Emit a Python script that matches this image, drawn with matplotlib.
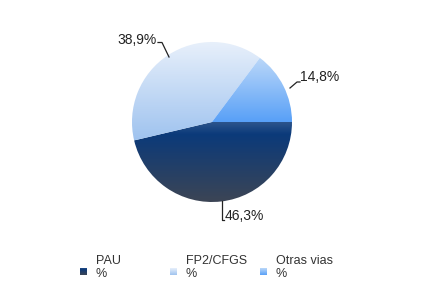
import numpy as np
import matplotlib
matplotlib.use("Agg")
import matplotlib.pyplot as plt

categories = ["PAU", "FP2/CFGS", "Otras vias"]
values = [46.3, 38.9, 14.8]
labels = ["46,3%", "38,9%", "14,8%"]
# gradient stops (position, colour) for every slice, top to bottom
grad_stops = [
    [(0.0, "#2c548b"), (0.15, "#0b3a7a"), (1.0, "#3c4555")],
    [(0.0, "#e8f0fb"), (1.0, "#9fc3ef")],
    [(0.0, "#bcd8f9"), (1.0, "#58a0f7")],
]

W, H = 425, 306
cx, cy, r = 212, 122, 80

plt.rcParams['font.family'] = ['Liberation Sans', 'DejaVu Sans']

fig = plt.figure(figsize=(W / 100, H / 100), dpi=100)
ax = fig.add_axes([0, 0, 1, 1])

# y axis inverted, so counterclock in data = clockwise on screen
wedges, _ = ax.pie(values, startangle=0, counterclock=True, center=(cx, cy),
                   radius=r, wedgeprops=dict(linewidth=0))
ax.set_xlim(0, W)
ax.set_ylim(H, 0)
ax.set_aspect('auto')
ax.axis('off')


def gradient(stops, n=96):
    pos = [s[0] for s in stops]
    cols = np.array([matplotlib.colors.to_rgb(s[1]) for s in stops])
    t = np.linspace(0, 1, n)
    rgb = np.stack([np.interp(t, pos, cols[:, k]) for k in range(3)], axis=1)
    return rgb[:, None, :]


for w, stops in zip(wedges, grad_stops):
    bb = w.get_path().get_extents(w.get_patch_transform())
    w.set_facecolor('none')
    im = ax.imshow(gradient(stops), extent=(bb.x0, bb.x1, bb.y1, bb.y0),
                   aspect='auto', interpolation='bilinear', zorder=1)
    im.set_clip_path(w)

# labels with leader lines
leaders = [[(222, 201), (222, 220), (224, 220)],
           [(169, 57), (162, 42.5), (158, 42.5)],
           [(290, 88), (297, 82), (300, 82)]]
lab_pos = [(225, 216, 'left'), (157, 40.5, 'right'), (300, 77, 'left')]
for lab, pts, (tx, ty, ha) in zip(labels, leaders, lab_pos):
    xs, ys = zip(*pts)
    ax.plot(xs, ys, color='#222222', lw=0.9, zorder=3)
    ax.text(tx, ty, lab, ha=ha, va='center', fontsize=10, color='#222222')

# legend
leg_x = [80, 170, 260]
for x, name, stops in zip(leg_x, categories, grad_stops):
    ax.imshow(gradient(stops), extent=(x, x + 7, 275, 268), aspect='auto',
              interpolation='bilinear', zorder=2)
    ax.text(x + 16, 261.5, name, ha='left', va='center', fontsize=9, color='#333333')
    ax.text(x + 16, 274, "%", ha='left', va='center', fontsize=9, color='#333333')

ax.set_xlim(0, W)
ax.set_ylim(H, 0)
fig.savefig("out.png", dpi=100)
